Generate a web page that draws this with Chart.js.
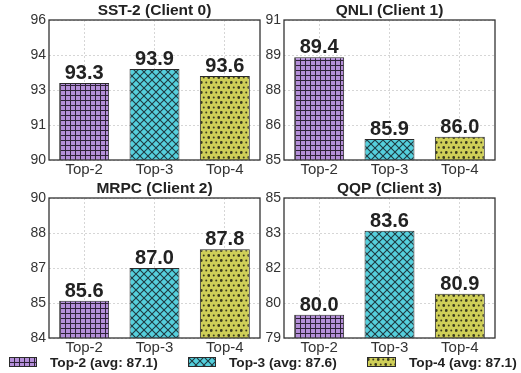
<!DOCTYPE html>
<html>
<head>
<meta charset="utf-8">
<script src="https://cdn.jsdelivr.net/npm/chart.js@4.4.0/dist/chart.umd.min.js"></script>
<style>
  body { margin: 0; background: #fff; }
  #page { position: relative; width: 521px; height: 373px; overflow: hidden; font-family: "Liberation Sans", Arial, sans-serif; }
  .box { position: absolute; width: 262px; height: 180px; }
  .leg { position: absolute; top: 355px; height: 14px; display: flex; align-items: center; font-weight: bold; font-size: 13.7px; color: #222; white-space: nowrap; }
  .leg canvas { margin-right: 13px; }
</style>
</head>
<body>
<div id="page">
  <div class="box" style="left:0px;top:0px"><canvas id="c0"></canvas></div>
  <div class="box" style="left:235px;top:0px"><canvas id="c1"></canvas></div>
  <div class="box" style="left:0px;top:177.5px"><canvas id="c2"></canvas></div>
  <div class="box" style="left:235px;top:177.5px"><canvas id="c3"></canvas></div>
  <div class="leg" style="left:9px"><canvas id="l0" width="28" height="10"></canvas><span id="t0"></span></div>
  <div class="leg" style="left:188px"><canvas id="l1" width="28" height="10"></canvas><span id="t1"></span></div>
  <div class="leg" style="left:367px"><canvas id="l2" width="29" height="10"></canvas><span id="t2"></span></div>
</div>
<script>
const categories = ["Top-2", "Top-3", "Top-4"];
const titles = ["SST-2 (Client 0)", "QNLI (Client 1)", "MRPC (Client 2)", "QQP (Client 3)"];
const sst2 = [93.3, 93.9, 93.6];
const qnli = [89.4, 85.9, 86.0];
const mrpc = [85.6, 87.0, 87.8];
const qqp = [80.0, 83.6, 80.9];
const yMins = [90, 85, 84, 79];
const yMaxs = [96, 91, 90, 85];
const tickStep = 1.5;

const tasks = [sst2, qnli, mrpc, qqp];
const fills = ["#b48fd8", "#55cfdc", "#cfcf58"];
const font = "'Liberation Sans', Arial, sans-serif";

// hatch patterns, one per category
function makePattern(kind) {
  const c = document.createElement("canvas");
  const ctx = c.getContext("2d");
  if (kind == 0) {
    c.width = 5; c.height = 5;
    ctx.fillStyle = fills[0]; ctx.fillRect(0, 0, 5, 5);
    ctx.fillStyle = "#2e2238";
    ctx.fillRect(0, 0, 5, 1);
    ctx.fillRect(0, 0, 1, 5);
  } else if (kind == 1) {
    c.width = 8; c.height = 8;
    ctx.fillStyle = fills[1]; ctx.fillRect(0, 0, 8, 8);
    ctx.strokeStyle = "#1f3a40"; ctx.lineWidth = 1.1;
    ctx.beginPath();
    ctx.moveTo(-1, -1); ctx.lineTo(9, 9);
    ctx.moveTo(9, -1); ctx.lineTo(-1, 9);
    ctx.stroke();
  } else {
    c.width = 10; c.height = 10;
    ctx.fillStyle = fills[2]; ctx.fillRect(0, 0, 10, 10);
    ctx.fillStyle = "#3a3a1e";
    // staggered rows of dots, alternating big / small
    [[1.25, 2.5, 1.4], [6.25, 2.5, 1.0], [3.75, 7.5, 1.0], [8.75, 7.5, 1.4]].forEach(p => {
      ctx.beginPath(); ctx.arc(p[0], p[1], p[2], 0, Math.PI * 2); ctx.fill();
    });
  }
  return c;
}
const tiles = [makePattern(0), makePattern(1), makePattern(2)];

const framePlugin = {
  id: "frame",
  afterDatasetsDraw(chart) {
    const a = chart.chartArea, ctx = chart.ctx;
    ctx.save();
    ctx.strokeStyle = "#333"; ctx.lineWidth = 1.3;
    ctx.strokeRect(a.left, a.top, a.right - a.left, a.bottom - a.top);
    ctx.restore();
  }
};

// title centred over the plot area, not the whole canvas
const titlePlugin = {
  id: "areaTitle",
  afterDraw(chart, args, opts) {
    const a = chart.chartArea, ctx = chart.ctx;
    ctx.save();
    ctx.font = "bold 15.5px " + font;
    ctx.fillStyle = "#222";
    ctx.textAlign = "center";
    ctx.textBaseline = "middle";
    ctx.fillText(opts.text, (a.left + a.right) / 2, a.top - 9);
    ctx.restore();
  }
};

const valuePlugin = {
  id: "values",
  afterDatasetsDraw(chart) {
    const ctx = chart.ctx;
    const meta = chart.getDatasetMeta(0);
    ctx.save();
    ctx.font = "bold 20px " + font;
    ctx.fillStyle = "#222";
    ctx.textAlign = "center";
    ctx.textBaseline = "alphabetic";
    meta.data.forEach((bar, i) => {
      ctx.fillText(chart.data.datasets[0].data[i].toFixed(1), bar.x, bar.y - 4);
    });
    ctx.restore();
  }
};

tasks.forEach((vals, k) => {
  const cv = document.getElementById("c" + k);
  const pats = tiles.map(t => cv.getContext("2d").createPattern(t, "repeat"));
  new Chart(cv, {
    type: "bar",
    data: {
      labels: categories,
      datasets: [{
        data: vals,
        backgroundColor: pats,
        borderColor: "#2b2b2b",
        borderWidth: 1,
        barPercentage: 0.71,
        categoryPercentage: 1
      }]
    },
    options: {
      responsive: true,
      maintainAspectRatio: false,
      animation: false,
      layout: { padding: { left: 0, right: 2, top: 20, bottom: 0 } },
      plugins: {
        legend: { display: false },
        tooltip: { enabled: false },
        title: { display: false },
        areaTitle: { text: titles[k] }
      },
      scales: {
        x: {
          grid: { offset: false, color: "#d6d6d6", drawTicks: false },
          border: { display: false, dash: [2, 2] },
          ticks: { color: "#333", padding: 1, font: { family: font, size: 15 } },
          afterFit(s) { s.height = 20; }
        },
        y: {
          min: yMins[k],
          max: yMaxs[k],
          grid: { color: "#d6d6d6", drawTicks: false },
          border: { display: false, dash: [2, 2] },
          ticks: {
            stepSize: tickStep,
            color: "#333",
            padding: 3,
            font: { family: font, size: 14 },
            callback: v => Math.trunc(v)
          },
          afterFit(s) { s.width = 49; }
        }
      }
    },
    plugins: [framePlugin, valuePlugin, titlePlugin]
  });
});

// legend with averages
const series = [0, 1, 2].map(i => tasks.map(t => t[i]));
series.forEach((s, i) => {
  const avg = s.reduce((a, b) => a + b, 0) / s.length;
  document.getElementById("t" + i).textContent = categories[i] + " (avg: " + avg.toFixed(1) + ")";
  const lc = document.getElementById("l" + i);
  const ctx = lc.getContext("2d");
  ctx.fillStyle = ctx.createPattern(tiles[i], "repeat");
  ctx.fillRect(0, 0, lc.width, lc.height);
  ctx.strokeStyle = "#2b2b2b"; ctx.lineWidth = 1;
  ctx.strokeRect(0.5, 0.5, lc.width - 1, lc.height - 1);
});
</script>
</body>
</html>
